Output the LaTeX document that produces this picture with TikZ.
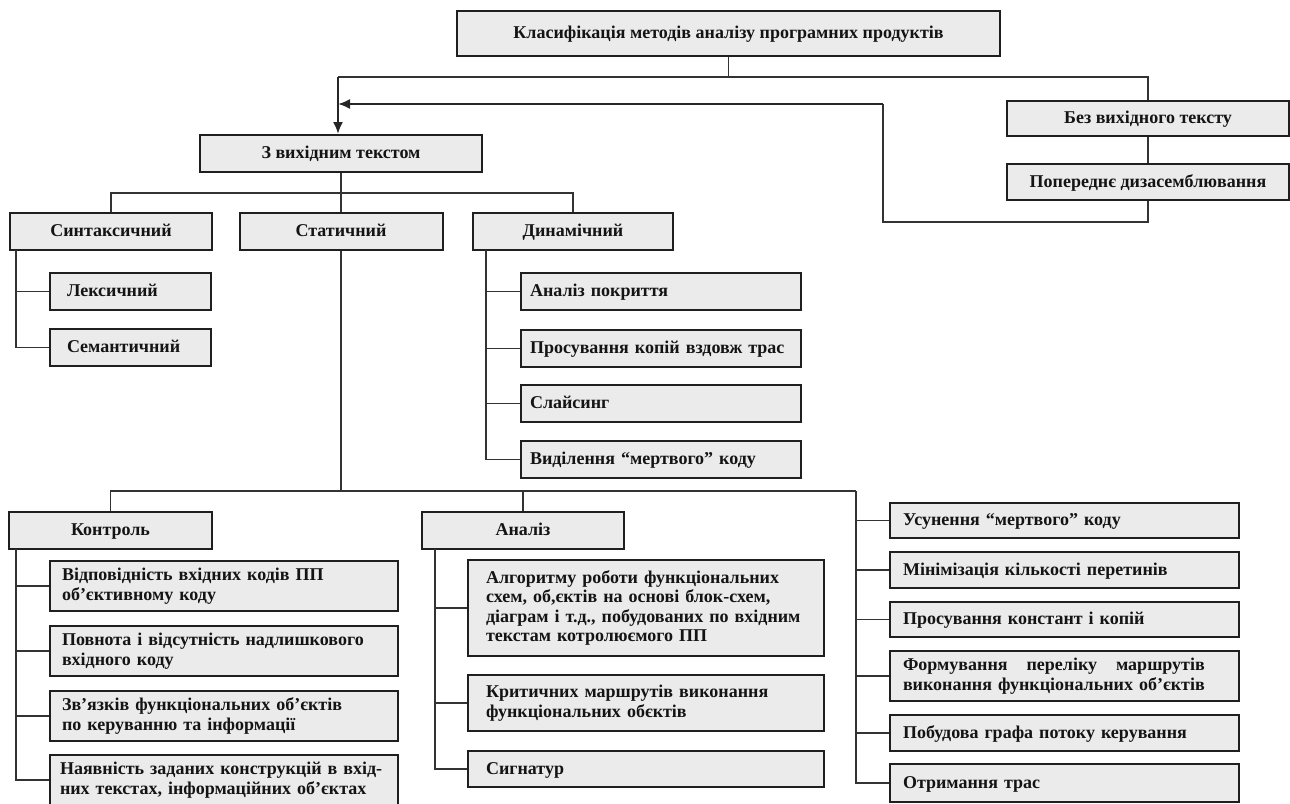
\documentclass[tikz,border=0pt]{standalone}
\usepackage{fontspec}
\setmainfont{Liberation Serif}
\usetikzlibrary{arrows.meta}
\begin{document}
\begin{tikzpicture}[x=0.5pt,y=-0.5pt,
  box/.style={draw=black!88, line width=1pt, fill=black!8, inner ysep=0pt,
    font=\bfseries\fontsize{9}{9.8}\selectfont, text=black!92},
  oneline/.style={text height=1.55ex, text depth=0.45ex},
  cbox/.style 2 args={box, oneline, align=center, inner xsep=0pt,
    minimum width={#1*0.5pt}, minimum height={#2*0.5pt}},
  lbox/.style n args={3}{box, align=left, text width={(#1-2*#2)*0.5pt},
    inner xsep={#2*0.5pt}, minimum height={#3*0.5pt}},
  wire/.style={draw=black!80, line width=0.65pt},
  feed/.style={draw=black!85, line width=1pt, -{Latex[length=6pt,width=5pt]}}
]
\useasboundingbox (0,0) rectangle (1290,803);

% top level
\node[cbox={543}{45}] (title) at (728.5,33.5) {Класифікація методів аналізу програмних продуктів};
\node[cbox={282}{37}] (src) at (341,153.5) {З вихідним текстом};
\node[cbox={282}{35}] (nosrc) at (1148,118.5) {Без вихідного тексту};
\node[cbox={282}{36}] (disasm) at (1148,182) {Попереднє дизасемблювання};

% second level
\node[cbox={202}{37}] (syn) at (111,231.5) {Синтаксичний};
\node[cbox={203}{37}] (stat) at (341,231.5) {Статичний};
\node[cbox={200}{37}] (dyn) at (573,231.5) {Динамічний};

% syntactic
\node[lbox={161}{17}{37}, oneline] (lex) at (130.5,291.5) {Лексичний};
\node[lbox={161}{17}{37}, oneline] (sem) at (130.5,347.5) {Семантичний};

% dynamic
\node[lbox={280}{9}{37}, oneline] (cov) at (661,291.5) {Аналіз покриття};
\node[lbox={280}{9}{37}, oneline] (prop) at (661,348.5) {Просування копій вздовж трас};
\node[lbox={280}{9}{37}, oneline] (slice) at (661,403.5) {Слайсинг};
\node[lbox={280}{9}{37}, oneline] (dead) at (661,459.5) {Виділення “мертвого” коду};

% static
\node[cbox={203}{37}] (ctrl) at (110.5,530.5) {Контроль};
\node[cbox={202}{37}] (anl) at (523,530.5) {Аналіз};

\node[lbox={348}{12}{50}] (c1) at (224,586) {Відповідність вхідних кодів ПП\\об’єктивному коду};
\node[lbox={348}{12}{50}] (c2) at (224,651) {Повнота і відсутність надлишкового\\вхідного коду};
\node[lbox={348}{12}{50}] (c3) at (224,716) {Зв’язків функціональних об’єктів\\по керуванню та інформації};
\node[lbox={348}{10}{50}] (c4) at (224,780) {Наявність заданих конструкцій в вхід-\\них текстах, інформаційних об’єктах};

\node[lbox={356}{18}{96}] (a1) at (646,608) {Алгоритму роботи функціональних\\схем, об,єктів на основі блок-схем,\\діаграм і т.д., побудованих по вхідним\\текстам котролюємого ПП};
\node[lbox={356}{18}{56}] (a2) at (646,703) {Критичних маршрутів виконання\\функціональних обєктів};
\node[lbox={356}{18}{36}, oneline] (a3) at (646,769) {Сигнатур};

\node[lbox={349}{13}{35}, oneline] (r1) at (1064.5,520.5) {Усунення “мертвого” коду};
\node[lbox={349}{13}{36}, oneline] (r2) at (1064.5,570) {Мінімізація кількості перетинів};
\node[lbox={349}{13}{35}, oneline] (r3) at (1064.5,619.5) {Просування констант і копій};
\node[lbox={349}{13}{50}] (r4) at (1064.5,676) {\setbox0\hbox{виконання функціональних об’єктів}\makebox[\wd0][s]{Формування\hfill переліку\hfill маршрутів}\\виконання функціональних об’єктів};
\node[lbox={349}{13}{36}, oneline] (r5) at (1064.5,733) {Побудова графа потоку керування};
\node[lbox={349}{13}{38}, oneline] (r6) at (1064.5,783) {Отримання трас};

% junction points
\coordinate (tl) at (338,77);
\coordinate (tr) at (1148,77);
\coordinate (fb) at (883,222);
\coordinate (fu) at (883,104);
\coordinate (fa) at (338,104);
\coordinate (h1) at (341,193);
\coordinate (sv) at (16,250);
\coordinate (dv) at (486,250);
\coordinate (h2) at (341,491);
\coordinate (rv) at (856,491);
\coordinate (kv) at (16,549);
\coordinate (av) at (435,549);

% connectors
\draw[wire] (title.south) |- (tl);
\draw[wire] (title.south) |- (tr) -- (nosrc.north);
\draw[feed] (tl) -- (tl |- src.north);
\draw[wire] (nosrc.south) -- (disasm.north);
\draw[wire] (disasm.south) |- (fb) -- (fu);
\draw[feed] (fu) -- (fa);

\draw[wire] (src.south) -- (stat.north);
\draw[wire] (syn.north) |- (h1) -| (dyn.north);

\draw[wire] (sv) |- (lex.west);
\draw[wire] (sv) |- (sem.west);

\draw[wire] (dv) |- (cov.west);
\draw[wire] (dv) |- (prop.west);
\draw[wire] (dv) |- (slice.west);
\draw[wire] (dv) |- (dead.west);

\draw[wire] (stat.south) -- (h2);
\draw[wire] (ctrl.north) |- (rv);
\draw[wire] (anl.north) -- (anl.north |- rv);

\draw[wire] (kv) |- (c1.west);
\draw[wire] (kv) |- (c2.west);
\draw[wire] (kv) |- (c3.west);
\draw[wire] (kv) |- (c4.west);

\draw[wire] (av) |- (a1.west);
\draw[wire] (av) |- (a2.west);
\draw[wire] (av) |- (a3.west);

\draw[wire] (rv) |- (r1.west);
\draw[wire] (rv) |- (r2.west);
\draw[wire] (rv) |- (r3.west);
\draw[wire] (rv) |- (r4.west);
\draw[wire] (rv) |- (r5.west);
\draw[wire] (rv) |- (r6.west);
\end{tikzpicture}
\end{document}
